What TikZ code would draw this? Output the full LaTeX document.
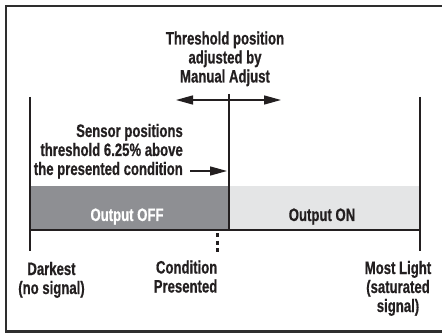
\documentclass[tikz,border=0pt]{standalone}
\usepackage{fontspec}
\newfontfamily\cf{Liberation Sans}[FakeStretch=0.73, BoldFeatures={FakeBold=0.6}]
\usetikzlibrary{arrows.meta}
\definecolor{ink}{HTML}{231F20}
\definecolor{frame}{HTML}{2E2E2E}
\definecolor{offgray}{HTML}{8E8F93}
\definecolor{ongray}{HTML}{E4E5E6}
\tikzset{
  lbl/.style={inner sep=0pt, font=\cf\bfseries\fontsize{18}{19}\selectfont, text=ink, anchor=base},
  rule/.style={draw=ink, line width=2pt},
  bigarrow/.style={draw=ink, line width=1.4pt, -{Triangle[length=17pt,width=9pt]}},
}
\begin{document}
\begin{tikzpicture}[x=1pt,y=-1pt]
\useasboundingbox (0,0) rectangle (442,334);
\fill[white] (0,0) rectangle (442,334);
% outer frame (right side cut off)
\draw[frame, line width=2.5pt] (446,6) -- (6,6) -- (6,331.5) -- (446,331.5);
% coordinates
\coordinate (l0) at (30,97);
\coordinate (l1) at (30,251);
\coordinate (r0) at (419.5,97);
\coordinate (r1) at (419.5,251);
\coordinate (t0) at (228.5,94);
\coordinate (t1) at (228.5,230);
\coordinate (b0) at (30,230);
\coordinate (b1) at (419.5,230);
\coordinate (d0) at (217.5,233);
\coordinate (d1) at (217.5,254);
\coordinate (am) at (228.5,100);
\coordinate (al) at (176,100);
\coordinate (ar) at (281,100);
\coordinate (p0) at (190,171);
\coordinate (p1) at (227,171);
% bars
\fill[offgray] (30,186.3) rectangle (228.5,230);
\fill[ongray] (228.5,186.3) rectangle (419.5,230);
% lines
\draw[rule] (l0) -- (l1);
\draw[rule] (r0) -- (r1);
\draw[rule] (b0) -- (b1);
\draw[rule] (t0) -- (t1);
\draw[ink, line width=2.5pt, dash pattern=on 4pt off 3.5pt] (d0) -- (d1);
% arrows
\draw[bigarrow] (am) -- (al);
\draw[bigarrow] (am) -- (ar);
\draw[bigarrow] (p0) -- (p1);
% texts (anchor = baseline of the last line)
\node[lbl, align=center] (thr) at (225,82.5) {Threshold position\\adjusted by\\Manual Adjust};
\node[lbl, align=right, anchor=base east] (sen) at (183,175) {Sensor positions\\threshold 6.25\% above\\the presented condition};
\node[lbl, text=white] (off) at (127,221) {Output OFF};
\node[lbl] (on) at (322,221) {Output ON};
\node[lbl, align=center] (dark) at (51.5,294) {Darkest\\(no signal)};
\node[lbl, align=right, anchor=base east] (cond) at (217.5,292.5) {Condition\\Presented};
\node[lbl, align=center] (most) at (398,312) {Most Light\\(saturated\\signal)};
\end{tikzpicture}
\end{document}
